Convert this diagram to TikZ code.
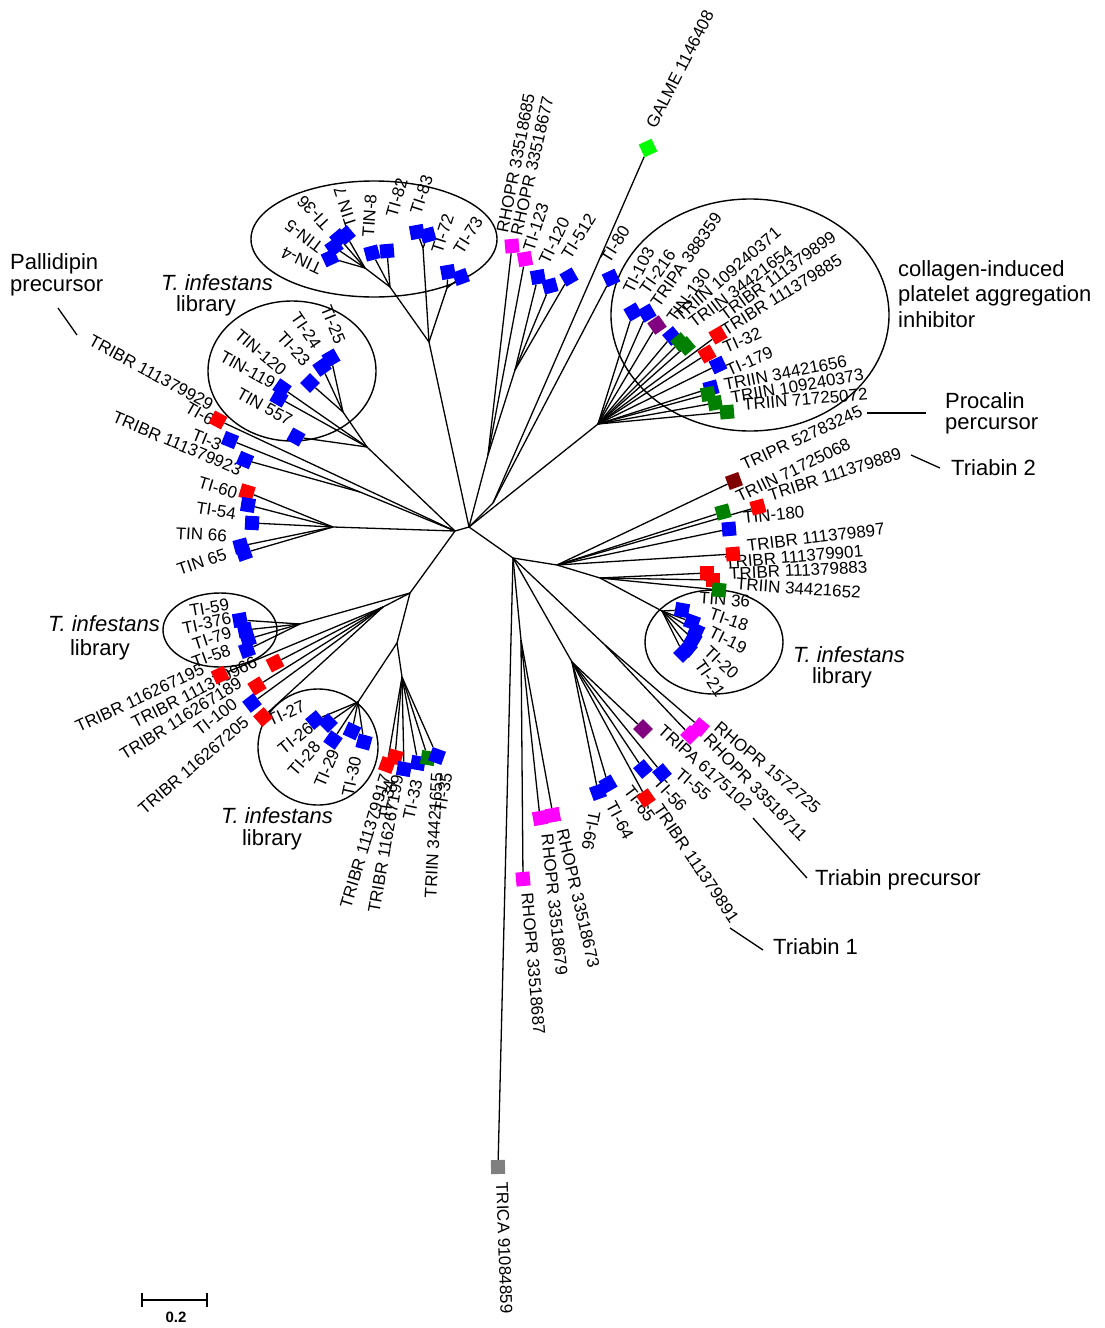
\documentclass[tikz,border=0pt]{standalone}
\usepackage{fontspec}
\setmainfont{Liberation Sans}
\pgfdeclarelayer{back}
\pgfdeclarelayer{bg}
\pgfsetlayers{back,bg,main}
\definecolor{cblue}{RGB}{0,0,255}
\definecolor{cred}{RGB}{255,0,0}
\definecolor{cmag}{RGB}{255,0,255}
\definecolor{cdgreen}{RGB}{0,128,0}
\definecolor{cgreen}{RGB}{0,255,0}
\definecolor{cpurple}{RGB}{128,0,128}
\definecolor{cmaroon}{RGB}{128,0,0}
\definecolor{cgray}{RGB}{128,128,128}
\newcommand\leaffont{\fontsize{17}{19}\selectfont}
\newcommand\annfont{\fontsize{22}{25}\selectfont}
\newcommand\mysq[5]{\node[sq,fill=#4,rotate=#5] (#1) at (#2,#3) {};}
\newcommand\mylab[6]{\node[lab,rotate=#5,anchor=#6] (#1) at (#2,#3) {#4};}
\begin{document}
\begin{tikzpicture}[x=1pt,y=-1pt,
  br/.style={line width=1.3pt,black},
  sq/.style={minimum size=14pt,inner sep=0pt,draw=none},
  lab/.style={font=\leaffont,inner sep=1pt},
  ann/.style={font=\annfont,inner sep=0pt},
  ell/.style={line width=1.4pt,black},
  pointer/.style={line width=1.3pt,black}]
\begin{pgfonlayer}{back}
\fill[white] (0,0) rectangle (1104,1328);
\end{pgfonlayer}
\useasboundingbox (0,0) rectangle (1104,1328);

% ---------- squares (leaves) ----------
\mysq{s1}{330}{258}{cblue}{25}
\mysq{s2}{334}{247}{cblue}{35}
\mysq{s3}{339}{238}{cblue}{40}
\mysq{s4}{346}{235}{cblue}{40}
\mysq{s5}{372}{253}{cblue}{15}
\mysq{s6}{387}{251}{cblue}{5}
\mysq{s7}{417}{232}{cblue}{10}
\mysq{s8}{428}{235}{cblue}{15}
\mysq{s9}{448}{272}{cblue}{10}
\mysq{s10}{461}{277}{cblue}{20}
\mysq{s11}{512}{246}{cmag}{5}
\mysq{s12}{525}{259}{cmag}{10}
\mysq{s13}{538}{277}{cblue}{10}
\mysq{s14}{550}{286}{cblue}{15}
\mysq{s15}{569}{277}{cblue}{30}
\mysq{s16}{648}{148}{cgreen}{25}
\mysq{s17}{611}{278}{cblue}{25}
\mysq{s18}{633}{312}{cblue}{30}
\mysq{s19}{647}{313}{cblue}{30}
\mysq{s20}{657}{325}{cpurple}{35}
\mysq{s21}{672}{336}{cblue}{40}
\mysq{s22}{680}{342}{cdgreen}{40}
\mysq{s23}{686}{346}{cdgreen}{40}
\mysq{s24}{718}{335}{cred}{30}
\mysq{s25}{707}{354}{cred}{30}
\mysq{s26}{718}{365}{cblue}{25}
\mysq{s27}{711}{388}{cblue}{15}
\mysq{s28}{708}{394}{cdgreen}{10}
\mysq{s29}{715}{403}{cdgreen}{10}
\mysq{s30}{727}{412}{cdgreen}{5}
\mysq{s31}{734}{481}{cmaroon}{20}
\mysq{s32}{723}{512}{cdgreen}{15}
\mysq{s33}{758}{507}{cred}{15}
\mysq{s34}{729}{529}{cblue}{5}
\mysq{s35}{733}{554}{cred}{5}
\mysq{s36}{707}{573}{cred}{0}
\mysq{s37}{713}{580}{cred}{0}
\mysq{s38}{719}{590}{cdgreen}{-5}
\mysq{s39}{682}{610}{cblue}{-10}
\mysq{s40}{692}{622}{cblue}{-20}
\mysq{s41}{696}{631}{cblue}{-25}
\mysq{s42}{693}{639}{cblue}{-30}
\mysq{s43}{688}{648}{cblue}{-40}
\mysq{s44}{683}{653}{cblue}{-45}
\mysq{s45}{700}{727}{cmag}{-40}
\mysq{s46}{690}{735}{cmag}{-45}
\mysq{s47}{643}{729}{cpurple}{-45}
\mysq{s48}{662}{773}{cblue}{-50}
\mysq{s49}{643}{769}{cblue}{-50}
\mysq{s50}{646}{798}{cred}{-55}
\mysq{s51}{598}{792}{cblue}{-70}
\mysq{s52}{608}{784}{cblue}{-60}
\mysq{s53}{553}{815}{cmag}{-80}
\mysq{s54}{540}{818}{cmag}{-80}
\mysq{s55}{523}{879}{cmag}{-85}
\mysq{s56}{498}{1167}{cgray}{-88}
\mysq{s57}{387}{765}{cred}{70}
\mysq{s58}{395}{757}{cred}{75}
\mysq{s59}{404}{769}{cblue}{80}
\mysq{s60}{418}{763}{cblue}{80}
\mysq{s61}{428}{758}{cdgreen}{80}
\mysq{s62}{437}{756}{cblue}{70}
\mysq{s63}{315}{720}{cblue}{40}
\mysq{s64}{328}{723}{cblue}{45}
\mysq{s65}{333}{740}{cblue}{55}
\mysq{s66}{352}{731}{cblue}{65}
\mysq{s67}{364}{742}{cblue}{75}
\mysq{s68}{220}{675}{cred}{25}
\mysq{s69}{275}{663}{cred}{27}
\mysq{s70}{257}{686}{cred}{32}
\mysq{s71}{252}{703}{cblue}{38}
\mysq{s72}{263}{717}{cred}{41}
\mysq{s73}{240}{620}{cblue}{10}
\mysq{s74}{245}{630}{cblue}{12}
\mysq{s75}{248}{639}{cblue}{18}
\mysq{s76}{247}{650}{cblue}{20}
\mysq{s77}{218}{420}{cred}{-28}
\mysq{s78}{230}{440}{cblue}{-22}
\mysq{s79}{245}{460}{cblue}{-23}
\mysq{s80}{247}{492}{cred}{-17}
\mysq{s81}{248}{505}{cblue}{-9}
\mysq{s82}{252}{523}{cblue}{-3}
\mysq{s83}{241}{546}{cblue}{15}
\mysq{s84}{244}{553}{cblue}{19}
\mysq{s85}{331}{358}{cblue}{-60}
\mysq{s86}{322}{367}{cblue}{-55}
\mysq{s87}{310}{383}{cblue}{-45}
\mysq{s88}{282}{388}{cblue}{-35}
\mysq{s89}{279}{398}{cblue}{-30}
\mysq{s90}{296}{437}{cblue}{-29}

\begin{pgfonlayer}{bg}
% ---------- labels ----------
\mylab{l1}{322}{270}{TIN-4}{155}{west}
\mylab{l2}{322}{250}{TIN-5}{143}{west}
\mylab{l3}{328}{228}{TI-36}{133}{west}
\mylab{l4}{352}{228}{TIN 7}{108}{west}
\mylab{l5}{368}{238}{TIN-8}{86}{west}
\mylab{l6}{391}{218}{TI-82}{74}{west}
\mylab{l7}{415}{215}{TI-83}{72}{west}
\mylab{l8}{436}{254}{TI-72}{72}{west}
\mylab{l9}{457}{253}{TI-73}{58}{west}
\mylab{l10}{502}{234}{RHOPR 33518685}{79}{west}
\mylab{l11}{516}{236}{RHOPR 33518677}{77}{west}
\mylab{l12}{528}{252}{TI-123}{72}{west}
\mylab{l13}{543}{264}{TI-120}{64}{west}
\mylab{l14}{565}{258}{TI-512}{58}{west}
\mylab{l15}{650}{128}{GALME 1146408}{63}{west}
\mylab{l16}{604}{262}{TI-80}{58}{west}
\mylab{l17}{627}{293}{TI-103}{63}{west}
\mylab{l18}{643}{293}{TI-216}{55}{west}
\mylab{l19}{654}{306}{TRIPA 388359}{55}{west}
\mylab{l20}{670}{321}{TIN-130}{54}{west}
\mylab{l21}{676}{319}{TRIIN 109240371}{41}{west}
\mylab{l22}{690}{325}{TRIIN 34421654}{37}{west}
\mylab{l23}{721}{317}{TRIBR 111379899}{36}{west}
\mylab{l24}{722}{332}{TRIBR 111379885}{32}{west}
\mylab{l25}{723}{349}{TI-32}{24}{west}
\mylab{l26}{726}{372}{TI-179}{24}{west}
\mylab{l27}{723}{385}{TRIIN 34421656}{11}{west}
\mylab{l28}{730}{398}{TRIIN 109240373}{10}{west}
\mylab{l29}{742}{405}{TRIIN 71725072}{5}{west}
\mylab{l30}{741}{466}{TRIPR 52783245}{25}{west}
\mylab{l31}{736}{498}{TRIIN 71725068}{26}{west}
\mylab{l32}{768}{496}{TRIBR 111379889}{18}{west}
\mylab{l33}{742}{518}{TIN-180}{6}{west}
\mylab{l34}{746}{546}{TRIBR 111379897}{7}{west}
\mylab{l35}{724}{563}{TRIBR 111379901}{5}{west}
\mylab{l36}{728}{574}{TRIBR 111379883}{3}{west}
\mylab{l37}{735}{584}{TRIIN 34421652}{-4}{west}
\mylab{l38}{698}{598}{TIN 36}{-4}{west}
\mylab{l39}{709}{613}{TI-18}{-19}{west}
\mylab{l40}{709}{631}{TI-19}{-26}{west}
\mylab{l41}{706}{648}{TI-20}{-43}{west}
\mylab{l42}{698}{661}{TI-21}{-55}{west}
\mylab{l43}{716}{724}{RHOPR 1572725}{-40}{west}
\mylab{l44}{706}{736}{RHOPR 33518711}{-46}{west}
\mylab{l45}{660}{727}{TRIPA 6175102}{-42}{west}
\mylab{l46}{677}{771}{TI-55}{-40}{west}
\mylab{l47}{656}{779}{TI-56}{-47}{west}
\mylab{l48}{657}{805}{TRIBR 111379891}{-56}{west}
\mylab{l49}{627}{787}{TI-65}{-53}{west}
\mylab{l50}{610}{802}{TI-64}{-62}{west}
\mylab{l51}{595}{810}{TI-66}{-101}{west}
\mylab{l52}{562}{828}{RHOPR 33518673}{-77}{west}
\mylab{l53}{547}{833}{RHOPR 33518679}{-84}{west}
\mylab{l54}{527}{892}{RHOPR 33518687}{-85}{west}
\mylab{l55}{502}{1181}{TRICA 91084859}{-88}{west}
\mylab{l56}{386}{774}{TRIBR 111379917}{73}{east}
\mylab{l57}{398}{774}{TRIBR 116267199}{80}{east}
\mylab{l58}{390}{779}{TI-34}{82}{east}
\mylab{l59}{417}{779}{TI-33}{78}{east}
\mylab{l60}{437}{772}{TRIIN 34421655}{87}{east}
\mylab{l61}{447}{772}{TI-35}{80}{east}
\mylab{l62}{312}{725}{TI-26}{39}{east}
\mylab{l63}{318}{743}{TI-28}{49}{east}
\mylab{l64}{335}{749}{TI-29}{67}{east}
\mylab{l65}{356}{756}{TI-30}{78}{east}
\mylab{l66}{267}{722}{TI-27}{25}{west}
\mylab{l67}{230}{604}{TI-59}{10}{east}
\mylab{l68}{232}{618}{TI-376}{12}{east}
\mylab{l69}{232}{632}{TI-79}{18}{east}
\mylab{l70}{231}{649}{TI-58}{20}{east}
\mylab{l71}{204}{668}{TRIBR 116267195}{25}{east}
\mylab{l72}{257}{660}{TRIBR 111379966}{27}{east}
\mylab{l73}{241}{681}{TRIBR 116267189}{32}{east}
\mylab{l74}{236}{701}{TI-100}{38}{east}
\mylab{l75}{247}{719}{TRIBR 116267205}{41}{east}
\mylab{l76}{213}{406}{TRIBR 111379929}{-28.5}{east}
\mylab{l77}{214}{422}{TI-6}{-30}{east}
\mylab{l78}{222}{446}{TI-3}{-22}{east}
\mylab{l79}{242}{471}{TRIBR 111379923}{-23}{east}
\mylab{l80}{238}{494}{TI-60}{-17}{east}
\mylab{l81}{237}{514}{TI-54}{-9}{east}
\mylab{l82}{228}{536}{TIN 66}{-3}{east}
\mylab{l83}{227}{553}{TIN 65}{19}{east}
\mylab{l84}{341}{344}{TI-25}{-68}{east}
\mylab{l85}{318}{348}{TI-24}{-56}{east}
\mylab{l86}{308}{364}{TI-23}{-47}{east}
\mylab{l87}{285}{373}{TIN-120}{-40}{east}
\mylab{l88}{275}{385}{TIN-119}{-29}{east}
\mylab{l89}{292}{422}{TIN 557}{-29}{east}

% ---------- internal nodes ----------
\coordinate (C0) at (455,531);
\coordinate (C1) at (469,527);
\coordinate (A) at (429,342);
\coordinate (P1) at (423,248);
\coordinate (P2) at (447,288);
\coordinate (B) at (390,287);
\coordinate (D) at (365,268);
\coordinate (F) at (488,455);
\coordinate (F2) at (515,370);
\coordinate (H) at (493,503);
\coordinate (K) at (598,424);
\coordinate (G) at (513,558);
\coordinate (G2) at (557,565);
\coordinate (G3) at (600,578);
\coordinate (E18) at (662,611);
\coordinate (N1) at (572,662);
\coordinate (RR) at (605,645);
\coordinate (M) at (521,640);
\coordinate (T65) at (333,527);
\coordinate (Q) at (360,492);
\coordinate (P0) at (367,447);
\coordinate (PP1) at (343,412);
\coordinate (LL) at (410,593);
\coordinate (N59) at (300,624);
\coordinate (LR) at (383,607);
\coordinate (NB) at (397,643);
\coordinate (NE) at (358,702);
\coordinate (NF) at (402,677);

% ---------- branches ----------
\draw[br] (C0) -- (C1);
\draw[br] (C1) -- (A);
\draw[br] (A) -- (P1); \draw[br] (P1) -- (s7); \draw[br] (P1) -- (s8);
\draw[br] (A) -- (P2); \draw[br] (P2) -- (s9); \draw[br] (P2) -- (s10);
\draw[br] (A) -- (B); \draw[br] (B) -- (s6); \draw[br] (B) -- (s5);
\draw[br] (B) -- (D);
\foreach \t in {s1,s2,s3,s4} \draw[br] (D) -- (\t);
\draw[br] (C1) -- (F); \draw[br] (F) -- (s11); \draw[br] (F) -- (s12);
\draw[br] (F) -- (F2);
\foreach \t in {s13,s14,s15} \draw[br] (F2) -- (\t);
\draw[br] (C1) -- (H); \draw[br] (H) -- (s16); \draw[br] (H) -- (s17);
\draw[br] (C1) -- (K);
\foreach \t in {s18,s19,s20,s21,s22,s23,s24,s25,s26,s27,s28,s29,s30} \draw[br] (K) -- (\t);
\draw[br] (C1) -- (G); \draw[br] (G) -- (G2);
\foreach \t in {s31,s32,s33,s34,s35} \draw[br] (G2) -- (\t);
\draw[br] (G2) -- (G3);
\foreach \t in {s36,s37,s38} \draw[br] (G3) -- (\t);
\draw[br] (G3) -- (E18);
\foreach \t in {s39,s40,s41,s42,s43,s44} \draw[br] (E18) -- (\t);
\draw[br] (G) -- (N1);
\foreach \t in {s47,s48,s49,s50,s51,s52} \draw[br] (N1) -- (\t);
\draw[br] (G) -- (RR); \draw[br] (RR) -- (s45); \draw[br] (RR) -- (s46);
\draw[br] (G) -- (s56);
\draw[br] (G) -- (M);
\foreach \t in {s53,s54,s55} \draw[br] (M) -- (\t);
\draw[br] (C0) -- (T65);
\foreach \t in {s80,s81,s82,s83,s84} \draw[br] (T65) -- (\t);
\draw[br] (C0) -- (Q); \draw[br] (Q) -- (s78); \draw[br] (Q) -- (s79);
\draw[br] (C0) -- (s77);
\draw[br] (C0) -- (P0); \draw[br] (P0) -- (PP1);
\foreach \t in {s85,s86,s87} \draw[br] (PP1) -- (\t);
\foreach \t in {s88,s89,s90} \draw[br] (P0) -- (\t);
\draw[br] (C0) -- (LL);
\draw[br] (LL) -- (N59);
\foreach \t in {s73,s74,s75,s76} \draw[br] (N59) -- (\t);
\draw[br] (LL) -- (LR);
\foreach \t in {s68,s69,s70,s71,s72} \draw[br] (LR) -- (\t);
\draw[br] (LL) -- (NB); \draw[br] (NB) -- (NE);
\foreach \t in {s63,s64,s65,s66,s67} \draw[br] (NE) -- (\t);
\draw[br] (NB) -- (NF);
\foreach \t in {s57,s58,s59,s60,s61,s62} \draw[br] (NF) -- (\t);

% ---------- ellipses ----------
\draw[ell] (374,239) ellipse [x radius=123pt, y radius=58pt];
\draw[ell] (750,315) ellipse [x radius=139pt, y radius=116pt];
\draw[ell] (292,371) ellipse [x radius=84pt, y radius=70pt];
\draw[ell] (714,642) ellipse [x radius=69pt, y radius=52pt];
\draw[ell] (220,630) ellipse [x radius=57pt, y radius=37pt];
\draw[ell] (318,747) ellipse [x radius=60pt, y radius=58pt];
\end{pgfonlayer}

% ---------- annotations ----------
\node[ann,anchor=west] (aPal1) at (10,264) {Pallidipin};
\node[ann,anchor=west] (aPal2) at (10,288) {precursor};
\coordinate (pa1) at (58,308); \coordinate (pa2) at (77,335);
\draw[pointer] (pa1) -- (pa2);
\node[ann] (tiA1) at (217,283) {\itshape T. infestans};
\node[ann] (tiA2) at (206,306) {library};
\node[ann,anchor=west] (aCol1) at (898,271) {collagen-induced};
\node[ann,anchor=west] (aCol2) at (898,296) {platelet aggregation};
\node[ann,anchor=west] (aCol3) at (898,320) {inhibitor};
\node[ann,anchor=west] (aPro1) at (945,401) {Procalin};
\node[ann,anchor=west] (aPro2) at (945,426) {percursor};
\coordinate (pp1) at (867,413); \coordinate (pp2) at (926,413);
\draw[pointer] (pp1) -- (pp2);
\node[ann,anchor=west] (aTr2) at (951,468) {Triabin 2};
\coordinate (pt1) at (911,455); \coordinate (pt2) at (940,468);
\draw[pointer] (pt1) -- (pt2);
\node[ann] (tiB1) at (849,655) {\itshape T. infestans};
\node[ann] (tiB2) at (842,678) {library};
\node[ann] (tiC1) at (104,624) {\itshape T. infestans};
\node[ann] (tiC2) at (100,650) {library};
\node[ann] (tiD1) at (277,816) {\itshape T. infestans};
\node[ann] (tiD2) at (272,840) {library};
\node[ann,anchor=west] (aTrp) at (815,880) {Triabin precursor};
\coordinate (pq1) at (753,818); \coordinate (pq2) at (807,878);
\draw[pointer] (pq1) -- (pq2);
\node[ann,anchor=west] (aTr1) at (773,947) {Triabin 1};
\coordinate (pr1) at (730,928); \coordinate (pr2) at (763,950);
\draw[pointer] (pr1) -- (pr2);

% ---------- scale bar ----------
\coordinate (sb1) at (142,1300); \coordinate (sb2) at (207,1300);
\draw[line width=1.5pt] (sb1) -- (sb2);
\draw[line width=1.5pt] ([yshift=7pt]sb1) -- ([yshift=-7pt]sb1);
\draw[line width=1.5pt] ([yshift=7pt]sb2) -- ([yshift=-7pt]sb2);
\node[font=\fontsize{15}{17}\selectfont\bfseries] (sbl) at (176,1317) {0.2};
\end{tikzpicture}
\end{document}
